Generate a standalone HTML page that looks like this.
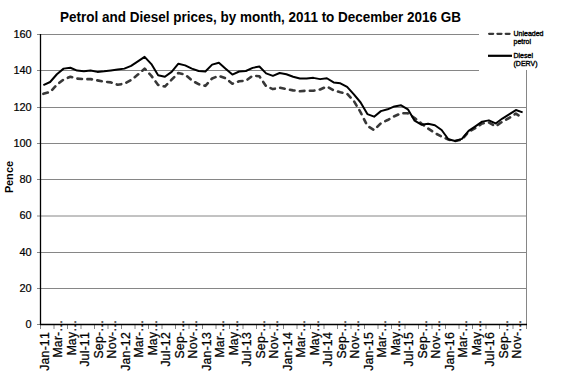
<!DOCTYPE html>
<html><head><meta charset="utf-8"><style>
html,body{margin:0;padding:0;background:#fff;width:562px;height:382px;overflow:hidden}
svg{display:block;font-family:"Liberation Sans",sans-serif}
</style></head><body>
<svg width="562" height="382" viewBox="0 0 562 382">
<line x1="37" y1="34.5" x2="479" y2="34.5" stroke="#868686" stroke-width="1"/>
<line x1="37" y1="70.5" x2="479" y2="70.5" stroke="#868686" stroke-width="1"/>
<line x1="37" y1="107.5" x2="526" y2="107.5" stroke="#868686" stroke-width="1"/>
<line x1="37" y1="143.5" x2="526" y2="143.5" stroke="#868686" stroke-width="1"/>
<line x1="37" y1="179.5" x2="526" y2="179.5" stroke="#868686" stroke-width="1"/>
<line x1="37" y1="216.0" x2="526" y2="216.0" stroke="#868686" stroke-width="1"/>
<line x1="37" y1="252.5" x2="526" y2="252.5" stroke="#868686" stroke-width="1"/>
<line x1="37" y1="288.5" x2="526" y2="288.5" stroke="#868686" stroke-width="1"/>
<line x1="37" y1="324.5" x2="40" y2="324.5" stroke="#868686" stroke-width="1"/>
<line x1="526.5" y1="70" x2="526.5" y2="324" stroke="#868686" stroke-width="1"/>
<line x1="40.5" y1="324" x2="40.5" y2="329" stroke="#868686" stroke-width="1"/>
<line x1="54.0" y1="324" x2="54.0" y2="329" stroke="#868686" stroke-width="1"/>
<line x1="67.5" y1="324" x2="67.5" y2="329" stroke="#868686" stroke-width="1"/>
<line x1="81.0" y1="324" x2="81.0" y2="329" stroke="#868686" stroke-width="1"/>
<line x1="94.5" y1="324" x2="94.5" y2="329" stroke="#868686" stroke-width="1"/>
<line x1="108.0" y1="324" x2="108.0" y2="329" stroke="#868686" stroke-width="1"/>
<line x1="121.5" y1="324" x2="121.5" y2="329" stroke="#868686" stroke-width="1"/>
<line x1="135.0" y1="324" x2="135.0" y2="329" stroke="#868686" stroke-width="1"/>
<line x1="148.5" y1="324" x2="148.5" y2="329" stroke="#868686" stroke-width="1"/>
<line x1="162.0" y1="324" x2="162.0" y2="329" stroke="#868686" stroke-width="1"/>
<line x1="175.5" y1="324" x2="175.5" y2="329" stroke="#868686" stroke-width="1"/>
<line x1="189.0" y1="324" x2="189.0" y2="329" stroke="#868686" stroke-width="1"/>
<line x1="202.5" y1="324" x2="202.5" y2="329" stroke="#868686" stroke-width="1"/>
<line x1="216.0" y1="324" x2="216.0" y2="329" stroke="#868686" stroke-width="1"/>
<line x1="229.5" y1="324" x2="229.5" y2="329" stroke="#868686" stroke-width="1"/>
<line x1="243.0" y1="324" x2="243.0" y2="329" stroke="#868686" stroke-width="1"/>
<line x1="256.5" y1="324" x2="256.5" y2="329" stroke="#868686" stroke-width="1"/>
<line x1="270.0" y1="324" x2="270.0" y2="329" stroke="#868686" stroke-width="1"/>
<line x1="283.5" y1="324" x2="283.5" y2="329" stroke="#868686" stroke-width="1"/>
<line x1="297.0" y1="324" x2="297.0" y2="329" stroke="#868686" stroke-width="1"/>
<line x1="310.5" y1="324" x2="310.5" y2="329" stroke="#868686" stroke-width="1"/>
<line x1="324.0" y1="324" x2="324.0" y2="329" stroke="#868686" stroke-width="1"/>
<line x1="337.5" y1="324" x2="337.5" y2="329" stroke="#868686" stroke-width="1"/>
<line x1="351.0" y1="324" x2="351.0" y2="329" stroke="#868686" stroke-width="1"/>
<line x1="364.5" y1="324" x2="364.5" y2="329" stroke="#868686" stroke-width="1"/>
<line x1="378.0" y1="324" x2="378.0" y2="329" stroke="#868686" stroke-width="1"/>
<line x1="391.5" y1="324" x2="391.5" y2="329" stroke="#868686" stroke-width="1"/>
<line x1="405.0" y1="324" x2="405.0" y2="329" stroke="#868686" stroke-width="1"/>
<line x1="418.5" y1="324" x2="418.5" y2="329" stroke="#868686" stroke-width="1"/>
<line x1="432.0" y1="324" x2="432.0" y2="329" stroke="#868686" stroke-width="1"/>
<line x1="445.5" y1="324" x2="445.5" y2="329" stroke="#868686" stroke-width="1"/>
<line x1="459.0" y1="324" x2="459.0" y2="329" stroke="#868686" stroke-width="1"/>
<line x1="472.5" y1="324" x2="472.5" y2="329" stroke="#868686" stroke-width="1"/>
<line x1="486.0" y1="324" x2="486.0" y2="329" stroke="#868686" stroke-width="1"/>
<line x1="499.5" y1="324" x2="499.5" y2="329" stroke="#868686" stroke-width="1"/>
<line x1="513.0" y1="324" x2="513.0" y2="329" stroke="#868686" stroke-width="1"/>
<line x1="526.5" y1="324" x2="526.5" y2="329" stroke="#868686" stroke-width="1"/>
<line x1="40.5" y1="34" x2="40.5" y2="325" stroke="#000" stroke-width="1.3"/>
<line x1="40" y1="324.5" x2="527" y2="324.5" stroke="#000" stroke-width="1.3"/>
<polyline points="43.38,93.81 50.12,92.00 56.88,84.75 63.62,79.49 70.38,76.77 77.12,78.59 83.88,79.13 90.62,79.13 97.38,80.40 104.12,81.67 110.88,82.39 117.62,84.75 124.38,83.66 131.12,80.04 137.88,74.60 144.62,68.62 151.38,75.87 158.12,84.93 164.88,86.56 171.62,79.67 178.38,72.97 185.12,74.60 191.88,80.40 198.62,84.21 205.38,85.84 212.12,78.41 218.88,75.87 225.62,78.23 232.38,83.66 239.12,81.31 245.88,80.76 252.62,75.69 259.38,76.23 266.12,86.20 272.88,89.10 279.62,87.65 286.38,89.10 293.12,90.37 299.88,91.27 306.62,90.73 313.38,90.73 320.12,89.46 326.88,86.56 333.62,90.37 340.38,92.18 347.12,93.81 353.88,101.06 360.62,112.30 367.38,125.89 374.12,130.06 380.88,123.27 387.62,120.01 394.38,116.20 401.12,113.30 407.88,113.30 414.62,118.01 421.38,123.45 428.12,128.52 434.88,133.06 441.62,136.50 448.38,139.58 455.12,141.03 461.88,139.58 468.62,131.79 475.38,128.16 482.12,123.45 488.88,122.54 495.62,126.35 502.38,121.64 509.12,118.01 515.88,113.66 522.62,118.01" fill="none" stroke="#383838" stroke-width="2.6" stroke-dasharray="4.6 5.4" stroke-linecap="round" stroke-linejoin="round"/>
<polyline points="43.38,85.11 50.12,82.03 56.88,74.24 63.62,68.62 70.38,67.71 77.12,70.61 83.88,71.34 90.62,70.43 97.38,71.88 104.12,71.34 110.88,70.43 117.62,69.52 124.38,68.62 131.12,65.90 137.88,61.37 144.62,56.84 151.38,64.09 158.12,75.33 164.88,76.77 171.62,71.88 178.38,63.73 185.12,65.36 191.88,68.62 198.62,70.98 205.38,71.52 212.12,64.63 218.88,62.82 225.62,68.80 232.38,74.60 239.12,71.52 245.88,70.98 252.62,67.89 259.38,66.44 266.12,73.33 272.88,75.87 279.62,72.97 286.38,74.24 293.12,76.77 299.88,78.59 306.62,78.59 313.38,77.86 320.12,79.13 326.88,78.23 333.62,82.39 340.38,83.30 347.12,86.92 353.88,94.36 360.62,102.51 367.38,114.11 374.12,116.65 380.88,111.12 387.62,109.31 394.38,106.41 401.12,105.32 407.88,109.31 414.62,120.73 421.38,124.72 428.12,123.81 434.88,125.26 441.62,129.98 448.38,139.22 455.12,141.03 461.88,138.86 468.62,130.88 475.38,126.35 482.12,121.64 488.88,120.37 495.62,123.45 502.38,118.56 509.12,114.39 515.88,110.04 522.62,112.39" fill="none" stroke="#000" stroke-width="2" stroke-linejoin="round"/>
<text x="13.50 19.50 25.50" y="37.9" font-size="11" stroke="#000" stroke-width="0.2">160</text>
<text x="13.50 19.50 25.50" y="73.9" font-size="11" stroke="#000" stroke-width="0.2">140</text>
<text x="13.50 19.50 25.50" y="110.9" font-size="11" stroke="#000" stroke-width="0.2">120</text>
<text x="13.50 19.50 25.50" y="146.9" font-size="11" stroke="#000" stroke-width="0.2">100</text>
<text x="19.50 25.50" y="182.9" font-size="11" stroke="#000" stroke-width="0.2">80</text>
<text x="19.50 25.50" y="218.9" font-size="11" stroke="#000" stroke-width="0.2">60</text>
<text x="19.50 25.50" y="255.9" font-size="11" stroke="#000" stroke-width="0.2">40</text>
<text x="19.50 25.50" y="291.9" font-size="11" stroke="#000" stroke-width="0.2">20</text>
<text x="25.50" y="327.9" font-size="11" stroke="#000" stroke-width="0.2">0</text>
<text transform="translate(13,177) rotate(-90)" x="-16.00 -9.00 -3.00 4.00 10.00" y="0" font-size="11" font-weight="bold">Pence</text>
<text transform="translate(60,21.7) scale(1,1.11)" x="0" y="0" font-size="13.5" font-weight="bold">Petrol and Diesel prices, by month, 2011 to December 2016 GB</text>
<line x1="489.1" y1="33.8" x2="509.6" y2="33.8" stroke="#383838" stroke-width="2.2" stroke-dasharray="4.1 4.2" stroke-linecap="round"/>
<line x1="488" y1="55.8" x2="512" y2="55.8" stroke="#000" stroke-width="2.2"/>
<text x="513.5" y="36.1" font-size="7" stroke="#000" stroke-width="0.35">Unleaded</text>
<text x="513.5" y="43.7" font-size="7" stroke="#000" stroke-width="0.35">petrol</text>
<text x="513.5" y="58.1" font-size="7" stroke="#000" stroke-width="0.35">Diesel</text>
<text x="513.5" y="66" font-size="7" stroke="#000" stroke-width="0.35">(DERV)</text>
<text transform="translate(48.77,331.9) rotate(-90) scale(1.02,1.1)" x="-38.0 -32.0 -25.0 -18.0 -14.0 -7.0" y="0" font-size="12" stroke="#000" stroke-width="0.25">Jan-11</text>
<text transform="translate(62.27,331.9) rotate(-90) scale(1.02,1.1)" x="-25.0 -15.0 -8.0 -4.0 0.0" y="0" font-size="12" stroke="#000" stroke-width="0.25">Mar-…</text>
<text transform="translate(75.78,331.9) rotate(-90) scale(1.02,1.1)" x="-23.0 -13.0 -6.0 0.0" y="0" font-size="12" stroke="#000" stroke-width="0.25">May…</text>
<text transform="translate(89.28,331.9) rotate(-90) scale(1.02,1.1)" x="-34.0 -28.0 -21.0 -18.0 -14.0 -7.0" y="0" font-size="12" stroke="#000" stroke-width="0.25">Jul-11</text>
<text transform="translate(102.78,331.9) rotate(-90) scale(1.02,1.1)" x="-26.0 -18.0 -11.0 -4.0 0.0" y="0" font-size="12" stroke="#000" stroke-width="0.25">Sep-…</text>
<text transform="translate(116.28,331.9) rotate(-90) scale(1.02,1.1)" x="-26.0 -17.0 -10.0 -4.0 0.0" y="0" font-size="12" stroke="#000" stroke-width="0.25">Nov-…</text>
<text transform="translate(129.78,331.9) rotate(-90) scale(1.02,1.1)" x="-38.0 -32.0 -25.0 -18.0 -14.0 -7.0" y="0" font-size="12" stroke="#000" stroke-width="0.25">Jan-12</text>
<text transform="translate(143.28,331.9) rotate(-90) scale(1.02,1.1)" x="-25.0 -15.0 -8.0 -4.0 0.0" y="0" font-size="12" stroke="#000" stroke-width="0.25">Mar-…</text>
<text transform="translate(156.78,331.9) rotate(-90) scale(1.02,1.1)" x="-23.0 -13.0 -6.0 0.0" y="0" font-size="12" stroke="#000" stroke-width="0.25">May…</text>
<text transform="translate(170.28,331.9) rotate(-90) scale(1.02,1.1)" x="-34.0 -28.0 -21.0 -18.0 -14.0 -7.0" y="0" font-size="12" stroke="#000" stroke-width="0.25">Jul-12</text>
<text transform="translate(183.78,331.9) rotate(-90) scale(1.02,1.1)" x="-26.0 -18.0 -11.0 -4.0 0.0" y="0" font-size="12" stroke="#000" stroke-width="0.25">Sep-…</text>
<text transform="translate(197.28,331.9) rotate(-90) scale(1.02,1.1)" x="-26.0 -17.0 -10.0 -4.0 0.0" y="0" font-size="12" stroke="#000" stroke-width="0.25">Nov-…</text>
<text transform="translate(210.78,331.9) rotate(-90) scale(1.02,1.1)" x="-38.0 -32.0 -25.0 -18.0 -14.0 -7.0" y="0" font-size="12" stroke="#000" stroke-width="0.25">Jan-13</text>
<text transform="translate(224.28,331.9) rotate(-90) scale(1.02,1.1)" x="-25.0 -15.0 -8.0 -4.0 0.0" y="0" font-size="12" stroke="#000" stroke-width="0.25">Mar-…</text>
<text transform="translate(237.78,331.9) rotate(-90) scale(1.02,1.1)" x="-23.0 -13.0 -6.0 0.0" y="0" font-size="12" stroke="#000" stroke-width="0.25">May…</text>
<text transform="translate(251.28,331.9) rotate(-90) scale(1.02,1.1)" x="-34.0 -28.0 -21.0 -18.0 -14.0 -7.0" y="0" font-size="12" stroke="#000" stroke-width="0.25">Jul-13</text>
<text transform="translate(264.77,331.9) rotate(-90) scale(1.02,1.1)" x="-26.0 -18.0 -11.0 -4.0 0.0" y="0" font-size="12" stroke="#000" stroke-width="0.25">Sep-…</text>
<text transform="translate(278.27,331.9) rotate(-90) scale(1.02,1.1)" x="-26.0 -17.0 -10.0 -4.0 0.0" y="0" font-size="12" stroke="#000" stroke-width="0.25">Nov-…</text>
<text transform="translate(291.77,331.9) rotate(-90) scale(1.02,1.1)" x="-38.0 -32.0 -25.0 -18.0 -14.0 -7.0" y="0" font-size="12" stroke="#000" stroke-width="0.25">Jan-14</text>
<text transform="translate(305.27,331.9) rotate(-90) scale(1.02,1.1)" x="-25.0 -15.0 -8.0 -4.0 0.0" y="0" font-size="12" stroke="#000" stroke-width="0.25">Mar-…</text>
<text transform="translate(318.77,331.9) rotate(-90) scale(1.02,1.1)" x="-23.0 -13.0 -6.0 0.0" y="0" font-size="12" stroke="#000" stroke-width="0.25">May…</text>
<text transform="translate(332.27,331.9) rotate(-90) scale(1.02,1.1)" x="-34.0 -28.0 -21.0 -18.0 -14.0 -7.0" y="0" font-size="12" stroke="#000" stroke-width="0.25">Jul-14</text>
<text transform="translate(345.77,331.9) rotate(-90) scale(1.02,1.1)" x="-26.0 -18.0 -11.0 -4.0 0.0" y="0" font-size="12" stroke="#000" stroke-width="0.25">Sep-…</text>
<text transform="translate(359.27,331.9) rotate(-90) scale(1.02,1.1)" x="-26.0 -17.0 -10.0 -4.0 0.0" y="0" font-size="12" stroke="#000" stroke-width="0.25">Nov-…</text>
<text transform="translate(372.77,331.9) rotate(-90) scale(1.02,1.1)" x="-38.0 -32.0 -25.0 -18.0 -14.0 -7.0" y="0" font-size="12" stroke="#000" stroke-width="0.25">Jan-15</text>
<text transform="translate(386.27,331.9) rotate(-90) scale(1.02,1.1)" x="-25.0 -15.0 -8.0 -4.0 0.0" y="0" font-size="12" stroke="#000" stroke-width="0.25">Mar-…</text>
<text transform="translate(399.77,331.9) rotate(-90) scale(1.02,1.1)" x="-23.0 -13.0 -6.0 0.0" y="0" font-size="12" stroke="#000" stroke-width="0.25">May…</text>
<text transform="translate(413.27,331.9) rotate(-90) scale(1.02,1.1)" x="-34.0 -28.0 -21.0 -18.0 -14.0 -7.0" y="0" font-size="12" stroke="#000" stroke-width="0.25">Jul-15</text>
<text transform="translate(426.77,331.9) rotate(-90) scale(1.02,1.1)" x="-26.0 -18.0 -11.0 -4.0 0.0" y="0" font-size="12" stroke="#000" stroke-width="0.25">Sep-…</text>
<text transform="translate(440.27,331.9) rotate(-90) scale(1.02,1.1)" x="-26.0 -17.0 -10.0 -4.0 0.0" y="0" font-size="12" stroke="#000" stroke-width="0.25">Nov-…</text>
<text transform="translate(453.77,331.9) rotate(-90) scale(1.02,1.1)" x="-38.0 -32.0 -25.0 -18.0 -14.0 -7.0" y="0" font-size="12" stroke="#000" stroke-width="0.25">Jan-16</text>
<text transform="translate(467.27,331.9) rotate(-90) scale(1.02,1.1)" x="-25.0 -15.0 -8.0 -4.0 0.0" y="0" font-size="12" stroke="#000" stroke-width="0.25">Mar-…</text>
<text transform="translate(480.77,331.9) rotate(-90) scale(1.02,1.1)" x="-23.0 -13.0 -6.0 0.0" y="0" font-size="12" stroke="#000" stroke-width="0.25">May…</text>
<text transform="translate(494.27,331.9) rotate(-90) scale(1.02,1.1)" x="-34.0 -28.0 -21.0 -18.0 -14.0 -7.0" y="0" font-size="12" stroke="#000" stroke-width="0.25">Jul-16</text>
<text transform="translate(507.77,331.9) rotate(-90) scale(1.02,1.1)" x="-26.0 -18.0 -11.0 -4.0 0.0" y="0" font-size="12" stroke="#000" stroke-width="0.25">Sep-…</text>
<text transform="translate(521.27,331.9) rotate(-90) scale(1.02,1.1)" x="-26.0 -17.0 -10.0 -4.0 0.0" y="0" font-size="12" stroke="#000" stroke-width="0.25">Nov-…</text>
</svg></body></html>
